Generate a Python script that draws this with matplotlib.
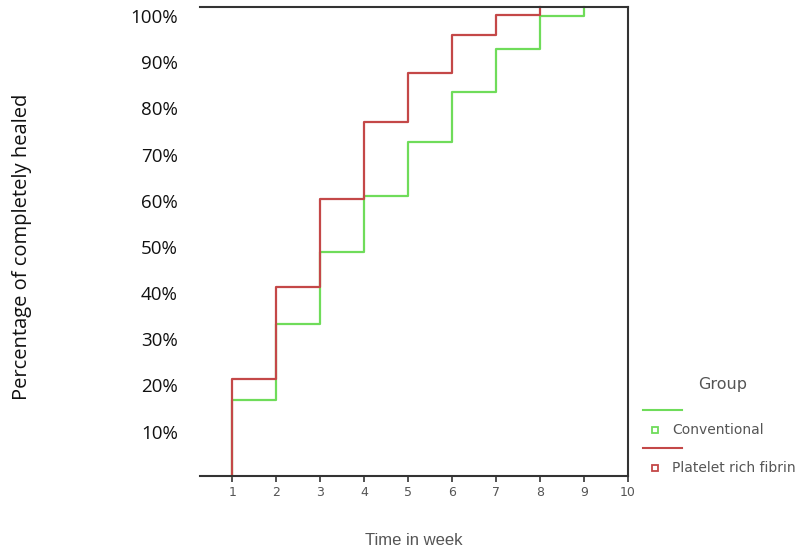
import matplotlib
matplotlib.use("Agg")
import matplotlib.pyplot as plt
from matplotlib.lines import Line2D

# ---- data ----
weeks_prf = [1, 1, 2, 3, 4, 5, 6, 7, 8]
healed_prf = [0, 20.6, 40.2, 59.1, 75.5, 85.9, 94.1, 98.4, 100]
weeks_conv = [1, 1, 2, 3, 4, 5, 6, 7, 8, 9]
healed_conv = [0, 16.1, 32.4, 47.8, 59.8, 71.2, 81.9, 91.1, 98.1, 100]
xtick_values = list(range(1, 11))
ytick_values = [10, 20, 30, 40, 50, 60, 70, 80, 90, 100]
ytick_labels = [f"{v}%" for v in ytick_values]
group_names = ["Conventional", "Platelet rich fibrin"]

green = "#6fdc5a"
red = "#c44848"
gray = "#555555"

fig = plt.figure(figsize=(7.99, 5.52), dpi=100)
ax = fig.add_axes([200/799, 76/552, 428/799, 469/552])

ax.plot(weeks_conv, healed_conv, drawstyle="steps-post", color=green, lw=1.6, zorder=3, clip_on=False)
ax.plot(weeks_prf, healed_prf, drawstyle="steps-post", color=red, lw=1.6, zorder=4, clip_on=False)

ax.set_xlim(0.27, 10)
ax.set_ylim(0, 100)

for s in ["top", "right", "bottom"]:
    ax.spines[s].set_color("#333333")
    ax.spines[s].set_linewidth(1.5)
    ax.spines[s].set_zorder(5)
ax.spines["left"].set_visible(False)

ax.set_xticks(xtick_values)
ax.set_xticklabels([str(v) for v in xtick_values], fontsize=9, color=gray,
                   family="DejaVu Sans")
ax.tick_params(axis="x", length=4, width=1.2, color="#333333", pad=3)

# the reference's percent labels sit slightly off the data scale
tick_pos = [v * 0.985 - 0.4 for v in ytick_values]
ax.set_yticks(tick_pos)
ax.set_yticklabels(ytick_labels, fontsize=13.5, family="Open Sans", color="#111111")
ax.tick_params(axis="y", length=0, pad=16)

ax.set_xlabel("Time in week", fontsize=12, color=gray, family="Liberation Sans", labelpad=25)
fig.text(22/799, 1 - 247/552, "Percentage of completely healed", rotation=90,
         ha="center", va="center", fontsize=14.5, family="Open Sans", color="#111111")

# ---- legend ----
def fx(px):
    return px / 799
def fy(py):
    return 1 - py / 552

fig.text(fx(723), fy(385), "Group", ha="center", va="center", fontsize=11.5,
         color=gray, family="DejaVu Sans")
for i, (name, col) in enumerate(zip(group_names, [green, red])):
    yl = 410 + i * 38
    ym = 430 + i * 38
    fig.add_artist(Line2D([fx(643), fx(682)], [fy(yl), fy(yl)], color=col, lw=1.5))
    fig.add_artist(Line2D([fx(655)], [fy(ym)], marker="s", markersize=5,
                          markerfacecolor="white", markeredgecolor=col, mew=1.3, lw=0))
    fig.text(fx(672), fy(ym), name, ha="left", va="center", fontsize=10,
             color=gray, family="DejaVu Sans")

fig.savefig("out.png", dpi=100)
